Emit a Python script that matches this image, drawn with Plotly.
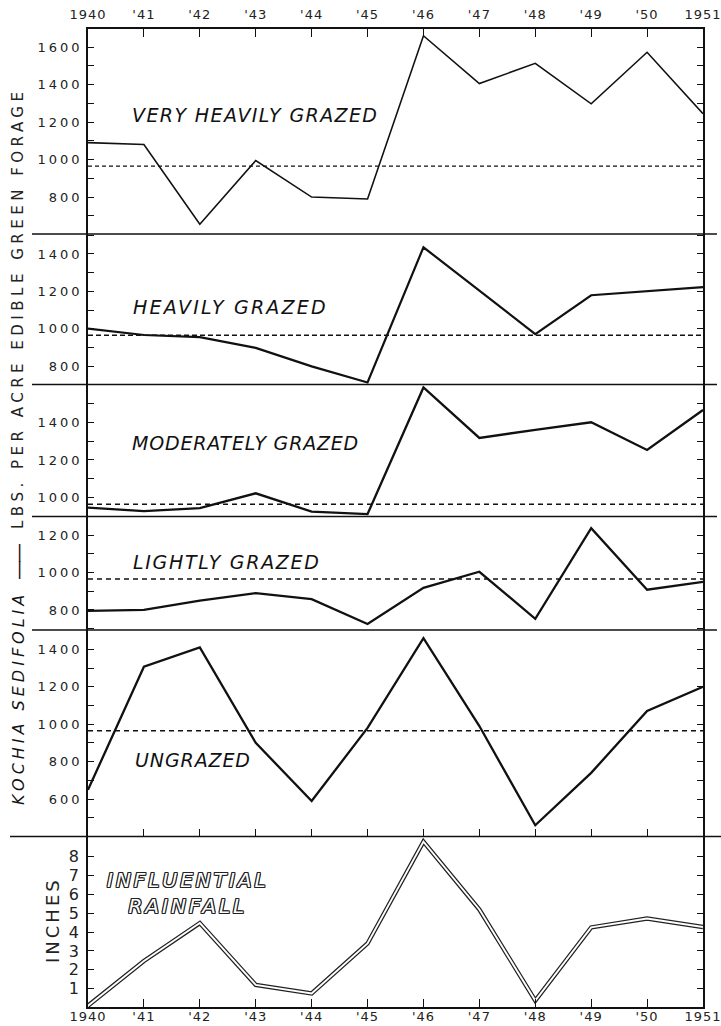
import plotly.graph_objects as go

# ---------------- data ----------------
years = list(range(1940, 1952))
year_labels = ["1940", "'41", "'42", "'43", "'44", "'45", "'46", "'47", "'48", "'49", "'50", "1951"]

very_heavily_grazed = [1090, 1080, 655, 995, 800, 790, 1660, 1405, 1513, 1297, 1572, 1244]
heavily_grazed = [1000, 966, 955, 897, 798, 712, 1436, 1203, 971, 1179, 1202, 1222]
moderately_grazed = [947, 929, 944, 1023, 926, 913, 1585, 1317, 1360, 1400, 1253, 1465]
lightly_grazed = [795, 800, 850, 890, 858, 725, 918, 1004, 753, 1237, 908, 950]
ungrazed = [649, 1307, 1410, 900, 590, 980, 1460, 990, 460, 740, 1070, 1200]
rainfall_inches = [0.1, 2.47, 4.48, 1.2, 0.75, 3.4, 8.8, 5.2, 0.37, 4.25, 4.72, 4.27]
mean_lbs = 965

panel_names = ["VERY HEAVILY GRAZED", "HEAVILY GRAZED", "MODERATELY GRAZED",
               "LIGHTLY GRAZED", "UNGRAZED"]
yticks_very_heavy = [800, 1000, 1200, 1400, 1600]
yticks_heavy = [800, 1000, 1200, 1400]
yticks_moderate = [1000, 1200, 1400]
yticks_light = [800, 1000, 1200]
yticks_ungrazed = [600, 800, 1000, 1200, 1400]
yticks_rain = [1, 2, 3, 4, 5, 6, 7, 8]

y_title = "LBS. PER ACRE EDIBLE GREEN FORAGE"
y_title_species = "KOCHIA SEDIFOLIA"
rain_title = "INCHES"
rain_label = "INFLUENTIAL<br>RAINFALL"

# ---------------- layout geometry ----------------
W, H = 721, 1026
L, R, T, B = 88, 703, 29, 1007
PH = B - T
bounds_px = [29, 234, 384.5, 516.5, 630, 836.5, 1007]


def fy(py):
    return (B - py) / PH


def fx(px):
    return (px - L) / (R - L)


def spaced(s, px):
    return f'<span style="letter-spacing:{px}px">{s}</span>'


domains = [[fy(bounds_px[i + 1]), fy(bounds_px[i])] for i in range(6)]
ranges = [[603, 1696], [701, 1507], [900, 1600.5], [693, 1299], [400, 1503], [0.03, 9.07]]
series = [very_heavily_grazed, heavily_grazed, moderately_grazed, lightly_grazed, ungrazed]
ticksets = [yticks_very_heavy, yticks_heavy, yticks_moderate, yticks_light, yticks_ungrazed, yticks_rain]
line_widths = [1.6, 2.2, 2.3, 2.3, 2.3]
dash_styles = ["4px,3px", "5px,3px", "5px,4px", "5px,4px", "5px,4px"]
dash_widths = [1.2, 1.4, 1.5, 1.5, 1.5]
label_spacing = [1.4, 2.2, 0.8, 1.7, 0.9]

FONT = "DejaVu Sans"
INK = "#111111"
TICK_INK = "#222222"

fig = go.Figure()

for i, vals in enumerate(series):
    xa = "x" if i == 0 else f"x{i+1}"
    ya = "y" if i == 0 else f"y{i+1}"
    fig.add_trace(go.Scatter(x=[years[0], years[-1]], y=[mean_lbs, mean_lbs], mode="lines",
                             line=dict(color=INK, width=dash_widths[i], dash=dash_styles[i]),
                             xaxis=xa, yaxis=ya, hoverinfo="skip"))
    fig.add_trace(go.Scatter(x=years, y=vals, mode="lines",
                             line=dict(color=INK, width=line_widths[i]),
                             xaxis=xa, yaxis=ya, hoverinfo="skip"))

# rainfall double line
fig.add_trace(go.Scatter(x=years, y=rainfall_inches, mode="lines",
                         line=dict(color="#222222", width=4.4),
                         xaxis="x6", yaxis="y6", hoverinfo="skip"))
fig.add_trace(go.Scatter(x=years, y=rainfall_inches, mode="lines",
                         line=dict(color="white", width=1.9),
                         xaxis="x6", yaxis="y6", hoverinfo="skip"))

layout = dict(
    width=W, height=H,
    margin=dict(l=L, r=W - R, t=T, b=H - B, pad=0, autoexpand=False),
    paper_bgcolor="white", plot_bgcolor="white",
    showlegend=False, hovermode=False,
    font=dict(family=FONT, color=INK),
)

year_text = [spaced(s, 1) for s in year_labels]

for i in range(6):
    key = "" if i == 0 else str(i + 1)
    xax = dict(domain=[0, 1], range=[1940, 1951], anchor="y" + key, automargin=False,
               showgrid=False, zeroline=False, fixedrange=True, ticklabeloverflow="allow")
    if i > 0:
        xax["matches"] = "x"
    if i == 0:
        xax.update(side="top", showline=True, linecolor=INK, linewidth=1.6,
                   ticks="inside", ticklen=8, tickwidth=1.3, tickcolor=INK,
                   tickmode="array", tickvals=years, ticktext=year_text,
                   tickfont=dict(size=13, family=FONT, color=TICK_INK), ticklabelstandoff=3)
    elif i == 4:
        xax.update(showline=False, ticks="inside", ticklen=8, tickwidth=1.3, tickcolor=INK,
                   tickmode="array", tickvals=years, showticklabels=False)
    elif i == 5:
        xax.update(showline=True, linecolor=INK, linewidth=1.6,
                   ticks="inside", ticklen=8, tickwidth=1.3, tickcolor=INK,
                   tickmode="array", tickvals=years, ticktext=year_text,
                   tickfont=dict(size=13, family=FONT, color=TICK_INK), ticklabelstandoff=-3)
    else:
        xax.update(showline=False, ticks="", showticklabels=False)
    layout["xaxis" + key] = xax

    if i < 5:
        ttext = [spaced(v, 3) for v in ticksets[i]]
        tfont = dict(size=13, family=FONT, color=TICK_INK)
        stand = 1
    else:
        ttext = [str(v) for v in ticksets[i]]
        tfont = dict(size=16, family=FONT, color=TICK_INK)
        stand = 4
    yax = dict(domain=domains[i], range=ranges[i], anchor="x" + key, automargin=False,
               showgrid=False, zeroline=False, fixedrange=True,
               showline=True, linecolor=INK, linewidth=1.6, mirror="ticks",
               ticks="inside", ticklen=6, tickwidth=1.2, tickcolor=INK,
               tickmode="array", tickvals=ticksets[i], ticktext=ttext,
               tickfont=tfont, ticklabelstandoff=stand, ticklabeloverflow="allow")
    if i < 5:
        yax["minor"] = dict(tickmode="linear", tick0=0, dtick=100, ticks="inside",
                            ticklen=6, tickwidth=1.2, tickcolor=INK, showgrid=False)
    layout["yaxis" + key] = yax

fig.update_layout(**layout)

# separators between panels (extend past the frame like the original)
shapes = []
for k, py in enumerate(bounds_px[1:6]):
    x0 = fx(10) if k == 4 else fx(32)
    x1 = fx(721) if k == 4 else fx(717)
    shapes.append(dict(type="line", xref="paper", yref="paper", x0=x0, x1=x1,
                       y0=fy(py), y1=fy(py), line=dict(color=INK, width=1.6)))
fig.update_layout(shapes=shapes)

# panel labels
label_pos = [(130, 115), (131, 307), (130, 443), (131, 562), (133, 760)]
ann = []
for i, name in enumerate(panel_names):
    px, py = label_pos[i]
    ann.append(dict(text=f"<i>{spaced(name, label_spacing[i])}</i>", xref="paper", yref="paper",
                    x=fx(px), y=fy(py), xanchor="left", yanchor="middle",
                    showarrow=False, font=dict(size=19, family=FONT, color=INK)))

# rainfall label (outlined lettering)
ann.append(dict(text=f"<i>{spaced(rain_label, 3)}</i>", xref="paper", yref="paper",
                x=fx(188), y=fy(893), xanchor="center", yanchor="middle", align="center",
                showarrow=False,
                font=dict(size=20, family=FONT, color="white",
                          shadow="1px 0 0 #222, -1px 0 0 #222, 0 1px 0 #222, 0 -1px 0 #222, "
                                 "1px 1px 0 #222, -1px -1px 0 #222, 1px -1px 0 #222, -1px 1px 0 #222")))

# axis titles
ann.append(dict(text=spaced(y_title, 4.5), xref="paper", yref="paper", x=fx(18), y=fy(309),
                xanchor="center", yanchor="middle", textangle=-90, showarrow=False,
                font=dict(size=15, family=FONT, color=TICK_INK)))
ann.append(dict(text=spaced("——", -3), xref="paper", yref="paper", x=fx(18), y=fy(562),
                xanchor="center", yanchor="middle", textangle=-90, showarrow=False,
                font=dict(size=20, family=FONT, color=INK)))
ann.append(dict(text=f"<i>{spaced(y_title_species, 4)}</i>", xref="paper", yref="paper",
                x=fx(18), y=fy(698), xanchor="center", yanchor="middle", textangle=-90,
                showarrow=False, font=dict(size=16, family=FONT, color=INK)))
ann.append(dict(text=spaced(rain_title, 3), xref="paper", yref="paper", x=fx(52), y=fy(920),
                xanchor="center", yanchor="middle", textangle=-90, showarrow=False,
                font=dict(size=18, family=FONT, color=TICK_INK)))

fig.update_layout(annotations=ann)

fig.write_html("out.html", config={"displayModeBar": False},
               post_script="document.body.style.margin='0';document.body.style.overflow='hidden';")
